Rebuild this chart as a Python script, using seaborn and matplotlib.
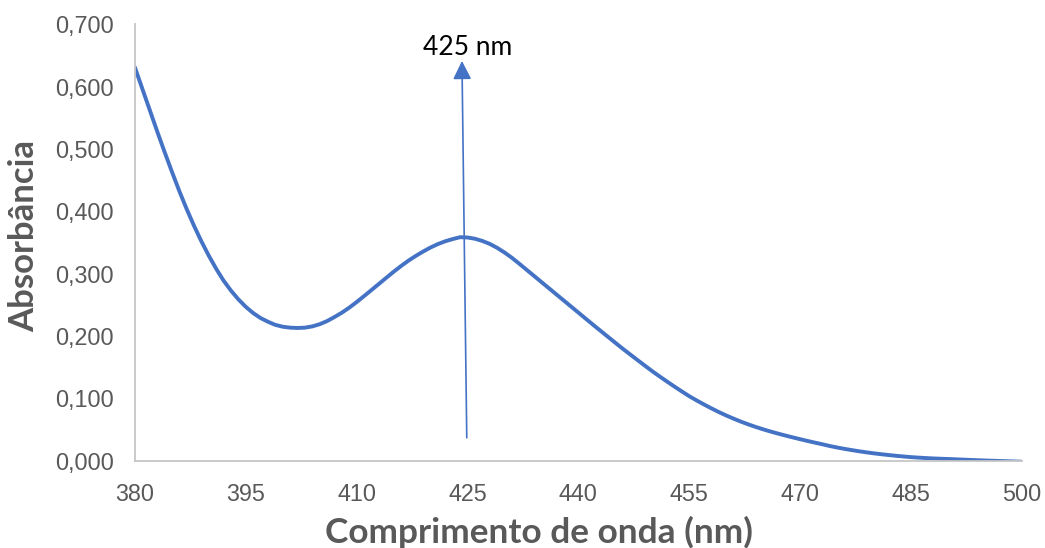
import numpy as np
import pandas as pd
import matplotlib
matplotlib.use("Agg")
import matplotlib.pyplot as plt
import seaborn as sns
from matplotlib.ticker import FuncFormatter

# UV-Vis absorption spectrum, 1 nm steps
wavelength = list(range(380, 501))
absorbance = [
    0.631, 0.597, 0.563, 0.529, 0.496, 0.464, 0.433, 0.404, 0.377, 0.352,   # 380-389
    0.329, 0.308, 0.289, 0.273, 0.259, 0.247, 0.237, 0.229, 0.223, 0.218,   # 390-399
    0.215, 0.2135, 0.213, 0.2135, 0.2155, 0.219, 0.224, 0.2305, 0.2375, 0.2455,  # 400-409
    0.2545, 0.264, 0.2737, 0.2835, 0.2933, 0.303, 0.3122, 0.3208, 0.3285, 0.3355,  # 410-419
    0.342, 0.3475, 0.352, 0.3555, 0.3585, 0.358, 0.356, 0.3525, 0.3478, 0.3415,  # 420-429
    0.334, 0.3255, 0.316, 0.3062, 0.2964, 0.2866, 0.2768, 0.267, 0.2572, 0.2474,  # 430-439
    0.2376, 0.2278, 0.218, 0.2084, 0.1988, 0.1892, 0.1797, 0.1706, 0.1615, 0.1525,  # 440-449
    0.1436, 0.1352, 0.127, 0.119, 0.1112, 0.1036, 0.0968, 0.0903, 0.0841, 0.0782,  # 450-459
    0.0727, 0.0676, 0.0628, 0.0584, 0.0543, 0.0505, 0.047, 0.0437, 0.0406, 0.0376,  # 460-469
    0.0347, 0.0319, 0.0292, 0.0266, 0.0238, 0.0214, 0.0192, 0.0172, 0.0153, 0.0136,  # 470-479
    0.012, 0.0106, 0.0093, 0.0081, 0.007, 0.006, 0.0052, 0.0045, 0.0039, 0.0034,  # 480-489
    0.003, 0.0025, 0.002, 0.0015, 0.001, 0.0006, 0.0002, -0.0002, -0.0006, -0.001,  # 490-499
    -0.0014,                                                                  # 500
]
x_ticks = [380, 395, 410, 425, 440, 455, 470, 485, 500]
y_ticks = [0.0, 0.1, 0.2, 0.3, 0.4, 0.5, 0.6, 0.7]
peak_label = "425 nm"
peak_nm = 425

df = pd.DataFrame({"wavelength": wavelength, "absorbance": absorbance})

sns.set_theme(style="white")
plt.rcParams["font.family"] = ["Liberation Sans", "DejaVu Sans"]

fig = plt.figure(figsize=(10.45, 5.48), dpi=100)
ax = fig.add_axes([0.129, 0.159, 0.849, 0.797])

blue = "#4472C4"
grey_text = "#595959"
spine_col = "#C6C6C6"

sns.lineplot(data=df, x="wavelength", y="absorbance", ax=ax,
             color=blue, linewidth=2.8)

ax.set_xlim(380, 500)
ax.set_ylim(0, 0.7)
ax.set_xticks(x_ticks)
ax.set_yticks(y_ticks)
ax.yaxis.set_major_formatter(FuncFormatter(lambda v, p: f"{v:.3f}".replace(".", ",")))

for side in ["top", "right"]:
    ax.spines[side].set_visible(False)
for side in ["left", "bottom"]:
    ax.spines[side].set_color(spine_col)
    ax.spines[side].set_linewidth(1.3)
ax.tick_params(axis="both", length=0, labelsize=16.8, colors=grey_text)
ax.tick_params(axis="x", pad=16)
ax.tick_params(axis="y", pad=15)

ax.set_xlabel("Comprimento de onda (nm)", fontsize=25.4, fontweight="bold",
              color=grey_text, family=["Lato", "DejaVu Sans"], va="center")
ax.xaxis.set_label_coords(0.455, -0.165)
ax.set_ylabel("Absorbância", fontsize=25, fontweight="bold",
              color=grey_text, family=["Lato", "DejaVu Sans"], va="center")
ax.yaxis.set_label_coords(-0.1246, 0.514)

# peak marker arrow
ax.annotate("", xy=(424.25, 0.641), xytext=(424.9, 0.037),
            arrowprops=dict(arrowstyle="-|>,head_length=0.8,head_width=0.4",
                            color=blue, lw=1.2, mutation_scale=14,
                            shrinkA=0, shrinkB=0))
ax.text(peak_nm + 0.06, 0.663, peak_label, ha="center", va="center",
        fontsize=19, color="black", family=["Lato", "DejaVu Sans"])

fig.savefig("out.png", dpi=100)
